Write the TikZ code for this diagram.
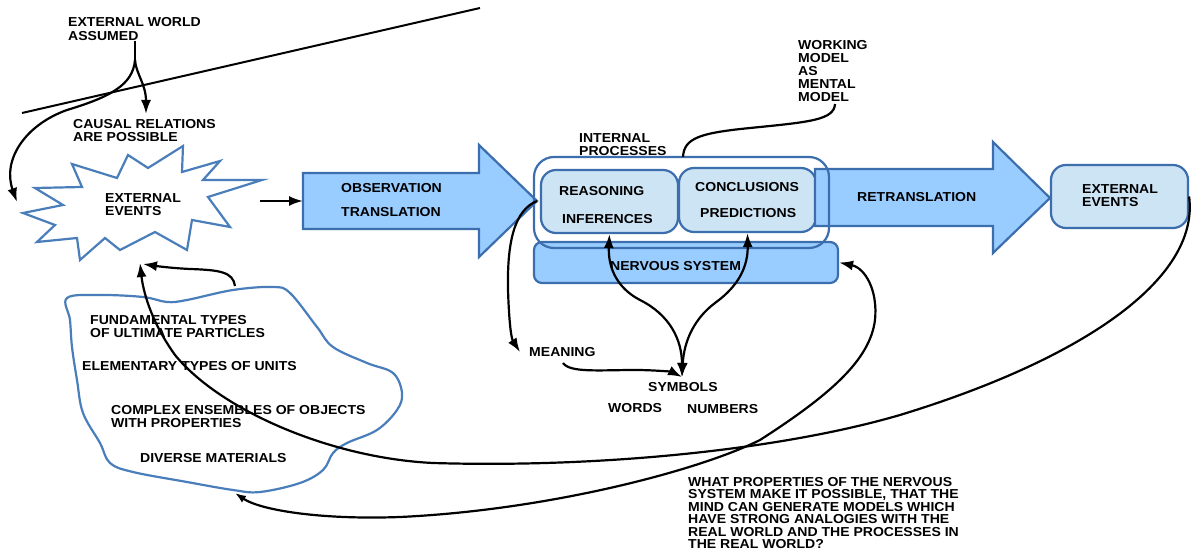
\documentclass[tikz,border=0pt]{standalone}
\usepackage{fontspec}
\setmainfont{Liberation Sans}[FakeStretch=1.08]
\usetikzlibrary{arrows.meta}
\definecolor{edgeblue}{HTML}{3C6EAE}
\definecolor{arrowfill}{HTML}{99CCFF}
\definecolor{boxfill}{HTML}{CDE4F4}
\definecolor{starblue}{HTML}{4A7EBB}
\begin{document}
\begin{tikzpicture}[x=1pt,y=-1pt,
  lbl/.style={font=\fontsize{13}{13.5}\selectfont\bfseries, inner sep=0pt, align=left, anchor=west},
  qlbl/.style={lbl, font=\fontsize{13}{12.5}\selectfont\bfseries},
  conn/.style={line width=2.2pt, -{Latex[length=14pt,width=10pt]}},
  dconn/.style={line width=2.2pt, {Latex[length=14pt,width=10pt]}-{Latex[length=14pt,width=10pt]}},
  plain/.style={line width=2.2pt},
  blockarrow/.style={draw=edgeblue, fill=arrowfill, line width=2.2pt, line join=miter},
  rbox/.style={draw=edgeblue, fill=boxfill, line width=2.2pt, rounded corners=15pt, inner sep=0pt},
  nbox/.style={draw=edgeblue, fill=arrowfill, line width=2.2pt, rounded corners=8pt, inner sep=0pt},
  obox/.style={draw=edgeblue, line width=2.2pt, rounded corners=20pt, inner sep=0pt},
  outline/.style={draw=starblue, fill=white, line width=2.2pt},
]
\useasboundingbox[fill=white] (0,0) rectangle (1192,553);

% diagonal line
\draw[line width=2pt] (22,113) -- (480,8);

% star
\draw[outline, line join=miter] (72,164) -- (117,178) -- (128,155) -- (148,168) -- (183,146) -- (182,172)
  -- (220,161) -- (203,180) -- (262,180) -- (208,197) -- (230,227) -- (192,220) -- (187,250)
  -- (155,232) -- (120,250) -- (105,238) -- (80,260) -- (77,238) -- (37,242) -- (55,225)
  -- (23,213) -- (63,205) -- (35,188) -- (82,187) -- cycle;

% blob
\draw[draw=starblue, line width=2.2pt] plot[smooth cycle, tension=0.6] coordinates {
  (67,298) (100,295) (143,297) (167,302) (187,300) (233,290) (273,287) (290,293)
  (317,327) (333,347) (367,363) (393,373) (402,393) (397,410) (377,430) (347,443)
  (333,453) (323,470) (300,483) (260,492) (233,490) (187,482) (133,472) (110,463)
  (100,443) (83,413) (77,380) (72,347) (70,320)};

% observation arrow
\draw[blockarrow] (303,173) -- (479,173) -- (479,145) -- (537,201) -- (479,257) -- (479,229) -- (303,229) -- cycle;
\coordinate (obsL) at (303,201);
\coordinate (obstip) at (537,201);

% nervous system
\node[nbox, minimum width=304pt, minimum height=41pt] (nervous) at (686,262.5) {};
% reasoning & conclusions
\node[rbox, minimum width=137pt, minimum height=63pt] (reason) at (609.5,201.5) {};
\node[rbox, minimum width=137pt, minimum height=64pt] (concl) at (747.5,200) {};
% retranslation arrow
\draw[blockarrow] (815,169) -- (993,169) -- (993,142) -- (1050,198) -- (993,253) -- (993,226) -- (815,226) -- cycle;
% outer internal processes box
\node[obox, minimum width=295pt, minimum height=91pt] (internal) at (681.5,202.5) {};
% right external events
\node[rbox, minimum width=137pt, minimum height=63pt] (extR) at (1119.5,196.5) {};

% labels
\node[lbl] (extworld) at (68,29) {EXTERNAL WORLD\\ASSUMED};
\node[lbl] (causal) at (73,130.5) {CAUSAL RELATIONS\\ARE POSSIBLE};
\node[lbl] (starlbl) at (105,204.5) {EXTERNAL\\EVENTS};
\node[lbl] (obs) at (341,188) {OBSERVATION};
\node[lbl] (trans) at (341,212) {TRANSLATION};
\node[lbl] (intlbl) at (579,144.5) {INTERNAL\\PROCESSES};
\node[lbl] (reas) at (559,191) {REASONING};
\node[lbl] (infer) at (562,219) {INFERENCES};
\node[lbl] (conc) at (695,187) {CONCLUSIONS};
\node[lbl] (pred) at (700,213) {PREDICTIONS};
\node[lbl] (nslbl) at (610,266) {NERVOUS SYSTEM};
\node[lbl] (retr) at (857,197) {RETRANSLATION};
\node[lbl] (extRlbl) at (1082,195.5) {EXTERNAL\\EVENTS};
\node[lbl, font=\fontsize{13}{12.8}\selectfont\bfseries] (working) at (798,71) {WORKING\\MODEL\\AS\\MENTAL\\MODEL};
\node[lbl] (meaning) at (529,352) {MEANING};
\node[lbl] (symbols) at (648,387) {SYMBOLS};
\node[lbl] (words) at (608,408) {WORDS};
\node[lbl] (numbers) at (687,409) {NUMBERS};
\node[qlbl] (question) at (688,513) {WHAT PROPERTIES OF THE NERVOUS\\SYSTEM MAKE IT POSSIBLE, THAT THE\\MIND CAN GENERATE MODELS WHICH\\HAVE STRONG ANALOGIES WITH THE\\REAL WORLD AND THE PROCESSES IN\\THE REAL WORLD?};
\node[lbl] (fund) at (90,326.5) {FUNDAMENTAL TYPES\\OF ULTIMATE PARTICLES};
\node[lbl] (elem) at (82,366) {ELEMENTARY TYPES OF UNITS};
\node[lbl] (complex) at (111,416.5) {COMPLEX ENSEMBLES OF OBJECTS\\WITH PROPERTIES};
\node[lbl] (diverse) at (140,458) {DIVERSE MATERIALS};

% free ends
\coordinate (ewsplit) at (135,60);
\coordinate (causalTop) at (146,114);
\coordinate (starLeft) at (17,202);
\coordinate (starRight) at (260,201);
\coordinate (starBottom) at (140,263);
\coordinate (blobTop) at (235,286);
\coordinate (blobBottom) at (235,493);
\coordinate (meaningTip) at (520,352);
\coordinate (meaningStart) at (563,363);
\coordinate (symTop) at (682,377);
\coordinate (workEnd) at (835,104);
\coordinate (internalTop) at (683,157);

% connectors
\draw[plain] (extworld.south -| ewsplit) -- (ewsplit);
\draw[conn] (ewsplit) .. controls (136,74) and (146,84) .. (causalTop);
\draw[conn] (ewsplit) .. controls (133,85) and (110,97) .. (67,110) .. controls (25,125) and (2,160) .. (starLeft);
\draw[conn] (starRight) -- (obsL);
\draw[plain] (internalTop) .. controls (684,138) and (700,133) .. (750,128) .. controls (810,122) and (834,120) .. (workEnd);
\draw[conn] (obstip) .. controls (515,210) and (507,240) .. (508,290) .. controls (509,320) and (511,338) .. (meaningTip);
\draw[conn] (meaningStart) .. controls (570,373) and (600,370) .. (635,370) .. controls (655,370) and (672,372) .. (symTop);
\draw[dconn] (symTop) .. controls (682,340) and (670,315) .. (640,300) .. controls (615,287) and (608,265) .. (reason.south);
\draw[dconn] (symTop) .. controls (684,340) and (695,318) .. (715,303) .. controls (740,285) and (748,265) .. (concl.south);
\draw[line width=2.2pt, {Latex[length=14pt,width=10pt]}-{Latex[length=11pt,width=8pt]}] (nervous.east) .. controls (865,268) and (878,290) .. (875,320)
  .. controls (870,360) and (830,395) .. (760,440)
  .. controls (700,470) and (550,510) .. (400,517)
  .. controls (320,520) and (260,510) .. (blobBottom);
\draw[conn] (extR.east) .. controls (1200,280) and (1080,360) .. (900,415)
  .. controls (780,450) and (600,468) .. (433,463)
  .. controls (330,458) and (220,410) .. (175,355)
  .. controls (150,320) and (143,290) .. (starBottom);
\draw[conn] (blobTop) .. controls (233,272) and (220,270) .. (190,269) .. controls (170,268) and (156,266) .. (143,264);
\end{tikzpicture}
\end{document}
